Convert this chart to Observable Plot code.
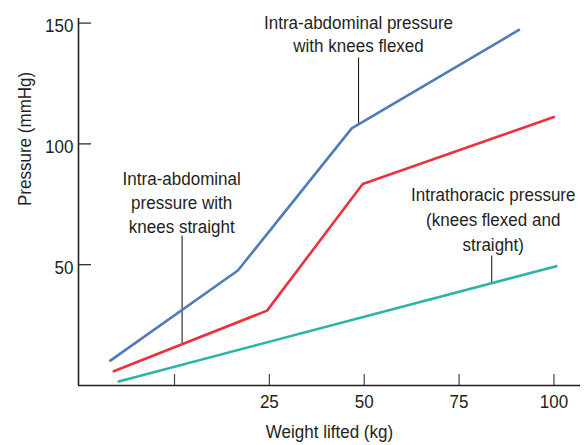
<!DOCTYPE html>
<html>
<head>
<meta charset="utf-8">
<script src="https://cdn.jsdelivr.net/npm/d3@7"></script>
<script src="https://cdn.jsdelivr.net/npm/@observablehq/plot@0.6"></script>
<style>
  html, body { margin: 0; padding: 0; background: #fff; }
  svg { display: block; }
</style>
</head>
<body>
<div id="chart"></div>
<script>
// Series (weight lifted kg, pressure mmHg)
const flexedWeight   = [-16.9, 16.7, 46.7, 90.8];
const flexedPressure = [10.3, 47.6, 106.4, 147.2];
const straightWeight   = [-16.0, 24.4, 49.6, 100.0];
const straightPressure = [5.9, 31.0, 83.4, 111.1];
const thoracicWeight   = [-14.7, 100.6];
const thoracicPressure = [1.7, 49.4];

const xTicks = [0, 25, 50, 75, 100];
const xTickLabels = [25, 50, 75, 100];
const yTicks = [50, 100, 150];

const xLabel = "Weight lifted (kg)";
const yLabel = "Pressure (mmHg)";

const annotations = [
  {text: "Intra-abdominal pressure\nwith knees flexed", x: 48.5, y: 154.5, lx: 48.5, ly1: 135.8, ly2: 108.0, lh: 1.25},
  {text: "Intra-abdominal\npressure with\nknees straight", x: 1.9, y: 90.2, lx: 2.0, ly1: 62.1, ly2: 17.4, lh: 1.31},
  {text: "Intrathoracic pressure\n(knees flexed and\nstraight)", x: 84.0, y: 83.6, lx: 83.6, ly1: 53.8, ly2: 42.3, lh: 1.35}
];

const toRows = (xs, ys) => xs.map((x, i) => ({x, y: ys[i]}));

const colors = {flexed: "#4d7cb8", straight: "#e8333e", thoracic: "#2bb3a6"};
const ink = "#231f20";
const FS = 18.5;         // font size
const CONDENSE = 0.92;   // horizontal text compression
const W = 588, H = 445;
const mL = 78, mR = 8, mT = 18, mB = 60;
const frameW = W - mL - mR, frameH = H - mT - mB;
const xDomain = [-25.3, 107];
const yDomain = [0, 151.9];

const chart = Plot.plot({
  width: W,
  height: H,
  marginLeft: mL,
  marginRight: mR,
  marginTop: mT,
  marginBottom: mB,
  style: {fontFamily: "'Liberation Sans', Arial, sans-serif", fontSize: FS + "px", color: ink, background: "#fff"},
  x: {domain: xDomain},
  y: {domain: yDomain},
  marks: [
    // axis lines
    Plot.ruleX([xDomain[0]], {stroke: ink, strokeWidth: 1.6}),
    Plot.ruleY([0], {stroke: ink, strokeWidth: 1.6}),
    // inward ticks
    Plot.ruleY(yTicks, {stroke: ink, strokeWidth: 1.2, insetRight: frameW - 13}),
    Plot.ruleX(xTicks, {stroke: "#444", strokeWidth: 1.2, insetTop: frameH - 11}),
    // tick labels
    Plot.axisY(yTicks, {tickSize: 0, tickPadding: 5, label: null, fontSize: FS, fill: ink, dy: 3}),
    Plot.axisX(xTickLabels, {tickSize: 0, tickPadding: 9, label: null, fontSize: FS, fill: ink}),
    // axis titles
    Plot.text([xLabel], {frameAnchor: "bottom", dy: 47, lineAnchor: "middle", fontSize: FS, fill: ink}),
    Plot.text([yLabel], {frameAnchor: "left", dx: -53, dy: 4, rotate: -90, lineAnchor: "middle", fontSize: FS, fill: ink}),
    // leader lines
    Plot.link(annotations, {x1: "lx", x2: "lx", y1: "ly1", y2: "ly2", stroke: ink, strokeWidth: 1.1}),
    // series
    Plot.line(toRows(thoracicWeight, thoracicPressure), {x: "x", y: "y", stroke: colors.thoracic, strokeWidth: 2.6}),
    Plot.line(toRows(straightWeight, straightPressure), {x: "x", y: "y", stroke: colors.straight, strokeWidth: 2.6}),
    Plot.line(toRows(flexedWeight, flexedPressure), {x: "x", y: "y", stroke: colors.flexed, strokeWidth: 2.6}),
    // annotation texts
    ...annotations.map(a => Plot.text([a], {x: "x", y: "y", text: "text", lineAnchor: "top", lineHeight: a.lh, fontSize: FS, fill: ink}))
  ]
});

document.getElementById("chart").appendChild(chart);

// Condense text horizontally (along the reading direction) around its anchor
chart.querySelectorAll("text").forEach(t => {
  const bb = t.getBBox();
  const anchor = getComputedStyle(t).textAnchor;
  const ax = anchor === "middle" ? bb.x + bb.width / 2 : anchor === "end" ? bb.x + bb.width : bb.x;
  const prev = t.getAttribute("transform") || "";
  t.setAttribute("transform", `${prev} translate(${ax},0) scale(${CONDENSE},1) translate(${-ax},0)`.trim());
});
</script>
</body>
</html>
